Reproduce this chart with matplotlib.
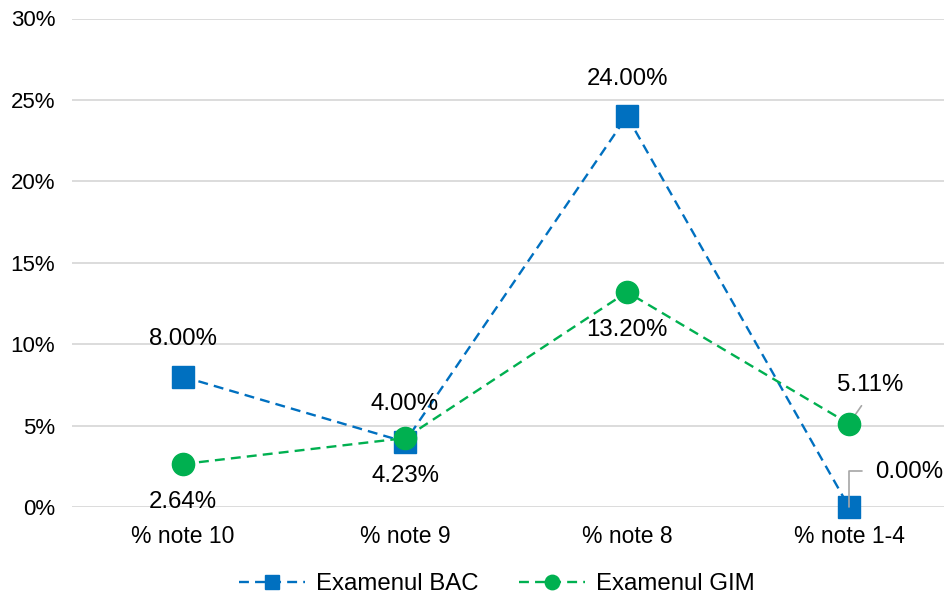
import matplotlib
matplotlib.use('Agg')
import matplotlib.pyplot as plt
from matplotlib.ticker import FuncFormatter

categories = ['% note 10', '% note 9', '% note 8', '% note 1-4']
bac = [8.00, 4.00, 24.00, 0.00]
gim = [2.64, 4.23, 13.20, 5.11]
yticks = [0, 5, 10, 15, 20, 25, 30]

blue = '#0070C0'
green = '#00B050'

plt.rcParams['font.family'] = ['Liberation Sans', 'DejaVu Sans']

fig = plt.figure(figsize=(9.44, 5.98), dpi=100)
ax = fig.add_axes([72 / 944, 91 / 598, 1 - 72 / 944, (507 - 18.5) / 598])

x = list(range(len(categories)))
dash = (0, (4.2, 2.6))
ax.plot(x, bac, color=blue, linestyle=dash, linewidth=1.7,
        marker='s', markersize=15.5, label='Examenul BAC', zorder=3, clip_on=False)
ax.plot(x, gim, color=green, linestyle=dash, linewidth=1.7,
        marker='o', markersize=16, label='Examenul GIM', zorder=4, clip_on=False)

ax.set_xlim(-0.5, (944 - 183) / 222)
ax.set_ylim(0, 30)
ax.set_yticks(yticks)
ax.yaxis.set_major_formatter(FuncFormatter(lambda v, p: f'{v:.0f}%'))
ax.set_xticks(x)
ax.set_xticklabels(categories)
ax.tick_params(axis='both', length=0, colors='black')
ax.tick_params(axis='x', pad=13, labelsize=16.5)
ax.tick_params(axis='y', pad=12, labelsize=16)
ax.grid(axis='y', color='#D9D9D9', linewidth=1.3)
ax.set_axisbelow(True)
for s in ax.spines.values():
    s.set_visible(False)

lab_fs = 17.3
# BAC labels
for i in range(3):
    ax.annotate(f'{bac[i]:.2f}%', (x[i], bac[i]), xytext=(0, 27),
                textcoords='offset points', ha='center', va='center', fontsize=lab_fs)
ax.annotate(f'{bac[3]:.2f}%', (x[3], bac[3]), xytext=(43, 25),
            textcoords='offset points', ha='center', va='center', fontsize=lab_fs)
ax.annotate('', (x[3], bac[3]), xytext=(9, 26), textcoords='offset points',
            arrowprops=dict(arrowstyle='-', color='#A6A6A6', lw=1.2,
                            connectionstyle='angle,angleA=0,angleB=90,rad=0',
                            shrinkA=0, shrinkB=0))

# GIM labels
for i in range(3):
    ax.annotate(f'{gim[i]:.2f}%', (x[i], gim[i]), xytext=(0, -27),
                textcoords='offset points', ha='center', va='center', fontsize=lab_fs)
ax.annotate(f'{gim[3]:.2f}%', (x[3], gim[3]), xytext=(15, 28),
            textcoords='offset points', ha='center', va='center', fontsize=lab_fs)
ax.annotate('', (x[3], gim[3]), xytext=(9, 13), textcoords='offset points',
            arrowprops=dict(arrowstyle='-', color='#A6A6A6', lw=1.2,
                            shrinkA=0, shrinkB=0))

fig.legend(loc='center', bbox_to_anchor=(497 / 944, 14 / 598), ncol=2,
           frameon=False, fontsize=17.3, handlelength=2.75, handletextpad=0.46,
           columnspacing=1.7, markerscale=0.65)

fig.savefig('out.png', dpi=100)
plt.close(fig)
